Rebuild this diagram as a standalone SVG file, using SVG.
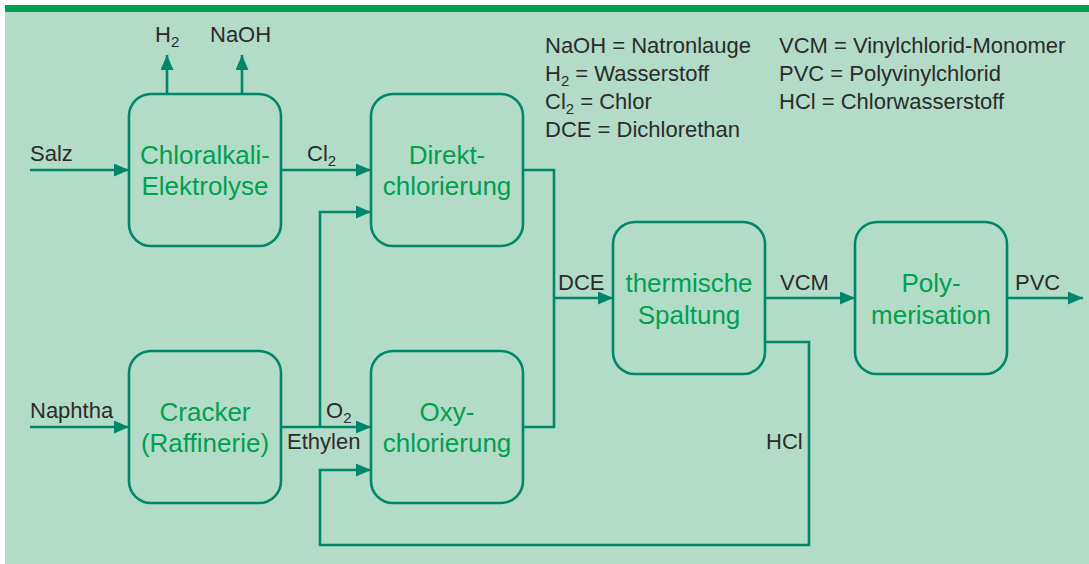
<svg xmlns="http://www.w3.org/2000/svg" width="1089" height="564" viewBox="0 0 1089 564">
<style>
.bg{fill:#b2dcc8}
.bar{fill:#00a050}
.box{fill:none;stroke:#00876a;stroke-width:2.6}
.ln{fill:none;stroke:#00876a;stroke-width:2.6}
.bt{font-family:"Liberation Sans",Arial,sans-serif;font-size:26px;fill:#00a050;text-anchor:middle}
.lb{font-family:"Liberation Sans",Arial,sans-serif;font-size:22px;fill:#2b2b2b}
.sub{font-size:15px}
</style>
<defs>
<marker id="ah" markerUnits="userSpaceOnUse" markerWidth="16" markerHeight="14" refX="15" refY="6.5" orient="auto">
<path d="M0,0 L15,6.5 L0,13 z" fill="#00876a"/>
</marker>
</defs>
<rect x="0" y="0" width="1089" height="564" fill="#ffffff"/>
<rect class="bg" x="5" y="5" width="1084" height="559"/>
<rect class="bar" x="5" y="5" width="1084" height="7"/>

<g id="legend">
<text class="lb" x="545" y="53">NaOH = Natronlauge</text>
<text class="lb" x="545" y="81">H<tspan class="sub" dy="5">2</tspan><tspan dy="-5"> = Wasserstoff</tspan></text>
<text class="lb" x="545" y="109">Cl<tspan class="sub" dy="5">2</tspan><tspan dy="-5"> = Chlor</tspan></text>
<text class="lb" x="545" y="137">DCE = Dichlorethan</text>
<text class="lb" x="779" y="53">VCM = Vinylchlorid-Monomer</text>
<text class="lb" x="779" y="81">PVC = Polyvinylchlorid</text>
<text class="lb" x="779" y="109">HCl = Chlorwasserstoff</text>
</g>

<g id="connectors">
<path class="ln" d="M167,94 V55" marker-end="url(#ah)"/>
<path class="ln" d="M242,94 V55" marker-end="url(#ah)"/>
<path class="ln" d="M30,170 H129" marker-end="url(#ah)"/>
<path class="ln" d="M281,170 H371" marker-end="url(#ah)"/>
<path class="ln" d="M30,427 H129" marker-end="url(#ah)"/>
<path class="ln" d="M281,427 H371" marker-end="url(#ah)"/>
<path class="ln" d="M320,427 V212 H371" marker-end="url(#ah)"/>
<path class="ln" d="M523,170 H554 V427 H523"/>
<path class="ln" d="M554,298 H613" marker-end="url(#ah)"/>
<path class="ln" d="M765,298 H855" marker-end="url(#ah)"/>
<path class="ln" d="M1007,298 H1083" marker-end="url(#ah)"/>
<path class="ln" d="M765,342 H809 V545 H320 V470 H371" marker-end="url(#ah)"/>
</g>

<g id="labels">
<text class="lb" x="155" y="42">H<tspan class="sub" dy="5">2</tspan></text>
<text class="lb" x="210" y="42">NaOH</text>
<text class="lb" x="30" y="161">Salz</text>
<text class="lb" x="307" y="161">Cl<tspan class="sub" dy="5">2</tspan></text>
<text class="lb" x="30" y="418">Naphtha</text>
<text class="lb" x="326" y="418">O<tspan class="sub" dy="5">2</tspan></text>
<text class="lb" x="287" y="449">Ethylen</text>
<text class="lb" x="558" y="290">DCE</text>
<text class="lb" x="780" y="290">VCM</text>
<text class="lb" x="1015" y="290">PVC</text>
<text class="lb" x="766" y="449">HCl</text>
</g>

<g id="chloralkali">
<rect class="box" x="129" y="94" width="152" height="152" rx="22"/>
<text class="bt" x="205" y="164">Chloralkali-</text>
<text class="bt" x="205" y="195">Elektrolyse</text>
</g>
<g id="direkt">
<rect class="box" x="371" y="94" width="152" height="152" rx="22"/>
<text class="bt" x="447" y="164">Direkt-</text>
<text class="bt" x="447" y="195">chlorierung</text>
</g>
<g id="cracker">
<rect class="box" x="129" y="351" width="152" height="152" rx="22"/>
<text class="bt" x="205" y="421">Cracker</text>
<text class="bt" x="205" y="452">(Raffinerie)</text>
</g>
<g id="oxy">
<rect class="box" x="371" y="351" width="152" height="152" rx="22"/>
<text class="bt" x="447" y="421">Oxy-</text>
<text class="bt" x="447" y="452">chlorierung</text>
</g>
<g id="spaltung">
<rect class="box" x="613" y="222" width="152" height="152" rx="22"/>
<text class="bt" x="689" y="292">thermische</text>
<text class="bt" x="689" y="324">Spaltung</text>
</g>
<g id="poly">
<rect class="box" x="855" y="222" width="152" height="152" rx="22"/>
<text class="bt" x="931" y="292">Poly-</text>
<text class="bt" x="931" y="324">merisation</text>
</g>
</svg>
